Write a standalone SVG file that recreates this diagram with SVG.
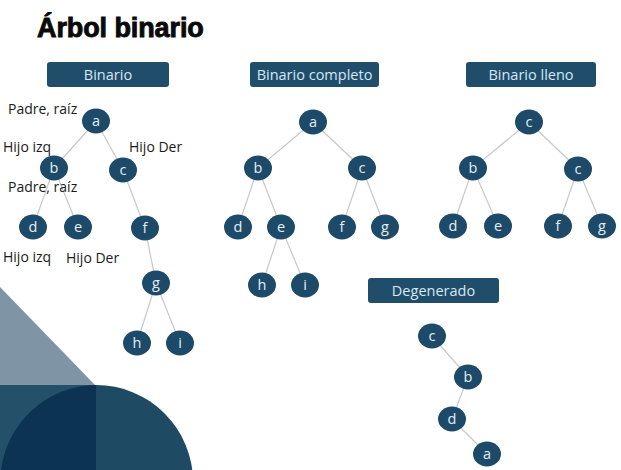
<svg xmlns="http://www.w3.org/2000/svg" width="621" height="470" viewBox="0 0 621 470">
<defs>
<style>
.bg{fill:#ffffff}
.title{font-family:"Liberation Sans",Arial,sans-serif;font-weight:bold;font-size:27px;fill:#0a0a0a;stroke:#0a0a0a;stroke-width:0.9;letter-spacing:-0.1px}
.box{fill:#1f4d6a}
.boxt{font-family:"Open Sans","Liberation Sans",sans-serif;font-size:14.5px;fill:#d6e8f4;text-anchor:middle}
.n{fill:#1d4a68}
.nt{font-family:"Open Sans","Liberation Sans",sans-serif;font-size:14.5px;fill:#e4eef6;text-anchor:middle}
.lbl{font-family:"Open Sans","Liberation Sans",sans-serif;font-size:14px;fill:#1a1a1a}
.e{stroke:#c8c8c8;stroke-width:1.2;fill:none}
</style>
</defs>
<rect class="bg" x="0" y="0" width="621" height="470"/>
<g id="decor">
<polygon points="0,287 95,385 0,385" fill="#7f95a5"/>
<rect x="0" y="385" width="96" height="85" fill="#24506a"/>
<path d="M96,385 A97,97 0 0 1 193,482 L96,482 Z" fill="#1f4a63"/>
<path d="M96,385 L96,470 L1,470 A97,97 0 0 1 96,385 Z" fill="#0c3352"/>
</g>
<text class="title" x="37" y="37">Árbol binario</text>
<g id="connectors">
<line class="e" x1="96" y1="121" x2="54" y2="168"/>
<line class="e" x1="96" y1="121" x2="123" y2="170"/>
<line class="e" x1="54" y1="168" x2="33" y2="227"/>
<line class="e" x1="54" y1="168" x2="78" y2="227"/>
<line class="e" x1="123" y1="170" x2="145" y2="228"/>
<line class="e" x1="145" y1="228" x2="156" y2="283"/>
<line class="e" x1="156" y1="283" x2="137" y2="343"/>
<line class="e" x1="156" y1="283" x2="180" y2="343"/>
<line class="e" x1="313" y1="122" x2="258" y2="168"/>
<line class="e" x1="313" y1="122" x2="362" y2="168"/>
<line class="e" x1="258" y1="168" x2="238" y2="227"/>
<line class="e" x1="258" y1="168" x2="281" y2="227"/>
<line class="e" x1="362" y1="168" x2="342" y2="227"/>
<line class="e" x1="362" y1="168" x2="385" y2="227"/>
<line class="e" x1="281" y1="227" x2="262" y2="285"/>
<line class="e" x1="281" y1="227" x2="305" y2="285"/>
<line class="e" x1="529" y1="122" x2="473" y2="168"/>
<line class="e" x1="529" y1="122" x2="578" y2="169"/>
<line class="e" x1="473" y1="168" x2="453" y2="226"/>
<line class="e" x1="473" y1="168" x2="498" y2="226"/>
<line class="e" x1="578" y1="169" x2="558" y2="226"/>
<line class="e" x1="578" y1="169" x2="602" y2="226"/>
<line class="e" x1="432" y1="336" x2="468" y2="377"/>
<line class="e" x1="468" y1="377" x2="452" y2="419"/>
<line class="e" x1="452" y1="419" x2="487" y2="454"/>
</g>
<g id="hdr-binario"><rect class="box" x="47" y="62" width="122" height="25" rx="3"/><text class="boxt" x="108" y="80">Binario</text></g>
<g id="hdr-completo"><rect class="box" x="250" y="62" width="129" height="25" rx="3"/><text class="boxt" x="314.5" y="80">Binario completo</text></g>
<g id="hdr-lleno"><rect class="box" x="466" y="62" width="130" height="25" rx="3"/><text class="boxt" x="531" y="80">Binario lleno</text></g>
<g id="hdr-degenerado"><rect class="box" x="368" y="278" width="131" height="25" rx="3"/><text class="boxt" x="433.5" y="296">Degenerado</text></g>
<g id="labels">
<text class="lbl" x="8" y="114">Padre, raíz</text>
<text class="lbl" x="3" y="152">Hijo izq</text>
<text class="lbl" x="129" y="152">Hijo Der</text>
<text class="lbl" x="8" y="192">Padre, raíz</text>
<text class="lbl" x="3" y="262">Hijo izq</text>
<text class="lbl" x="66" y="263">Hijo Der</text>
</g>
<g id="t1-a"><ellipse class="n" cx="96" cy="121" rx="14" ry="12.5"/><text class="nt" x="96" y="126">a</text></g>
<g id="t1-b"><ellipse class="n" cx="54" cy="168" rx="14" ry="12.5"/><text class="nt" x="54" y="173">b</text></g>
<g id="t1-c"><ellipse class="n" cx="123" cy="170" rx="14" ry="12.5"/><text class="nt" x="123" y="175">c</text></g>
<g id="t1-d"><ellipse class="n" cx="33" cy="227" rx="14" ry="12.5"/><text class="nt" x="33" y="232">d</text></g>
<g id="t1-e"><ellipse class="n" cx="78" cy="227" rx="14" ry="12.5"/><text class="nt" x="78" y="232">e</text></g>
<g id="t1-f"><ellipse class="n" cx="145" cy="228" rx="14" ry="12.5"/><text class="nt" x="145" y="233">f</text></g>
<g id="t1-g"><ellipse class="n" cx="156" cy="283" rx="14" ry="12.5"/><text class="nt" x="156" y="288">g</text></g>
<g id="t1-h"><ellipse class="n" cx="137" cy="343" rx="14" ry="12.5"/><text class="nt" x="137" y="348">h</text></g>
<g id="t1-i"><ellipse class="n" cx="180" cy="343" rx="14" ry="12.5"/><text class="nt" x="180" y="348">i</text></g>
<g id="t2-a"><ellipse class="n" cx="313" cy="122" rx="14" ry="12.5"/><text class="nt" x="313" y="127">a</text></g>
<g id="t2-b"><ellipse class="n" cx="258" cy="168" rx="14" ry="12.5"/><text class="nt" x="258" y="173">b</text></g>
<g id="t2-c"><ellipse class="n" cx="362" cy="168" rx="14" ry="12.5"/><text class="nt" x="362" y="173">c</text></g>
<g id="t2-d"><ellipse class="n" cx="238" cy="227" rx="14" ry="12.5"/><text class="nt" x="238" y="232">d</text></g>
<g id="t2-e"><ellipse class="n" cx="281" cy="227" rx="14" ry="12.5"/><text class="nt" x="281" y="232">e</text></g>
<g id="t2-f"><ellipse class="n" cx="342" cy="227" rx="14" ry="12.5"/><text class="nt" x="342" y="232">f</text></g>
<g id="t2-g"><ellipse class="n" cx="385" cy="227" rx="14" ry="12.5"/><text class="nt" x="385" y="232">g</text></g>
<g id="t2-h"><ellipse class="n" cx="262" cy="285" rx="14" ry="12.5"/><text class="nt" x="262" y="290">h</text></g>
<g id="t2-i"><ellipse class="n" cx="305" cy="285" rx="14" ry="12.5"/><text class="nt" x="305" y="290">i</text></g>
<g id="t3-c"><ellipse class="n" cx="529" cy="122" rx="14" ry="12.5"/><text class="nt" x="529" y="127">c</text></g>
<g id="t3-b"><ellipse class="n" cx="473" cy="168" rx="14" ry="12.5"/><text class="nt" x="473" y="173">b</text></g>
<g id="t3-c2"><ellipse class="n" cx="578" cy="169" rx="14" ry="12.5"/><text class="nt" x="578" y="174">c</text></g>
<g id="t3-d"><ellipse class="n" cx="453" cy="226" rx="14" ry="12.5"/><text class="nt" x="453" y="231">d</text></g>
<g id="t3-e"><ellipse class="n" cx="498" cy="226" rx="14" ry="12.5"/><text class="nt" x="498" y="231">e</text></g>
<g id="t3-f"><ellipse class="n" cx="558" cy="226" rx="14" ry="12.5"/><text class="nt" x="558" y="231">f</text></g>
<g id="t3-g"><ellipse class="n" cx="602" cy="226" rx="14" ry="12.5"/><text class="nt" x="602" y="231">g</text></g>
<g id="t4-c"><ellipse class="n" cx="432" cy="336" rx="14" ry="12.5"/><text class="nt" x="432" y="341">c</text></g>
<g id="t4-b"><ellipse class="n" cx="468" cy="377" rx="14" ry="12.5"/><text class="nt" x="468" y="382">b</text></g>
<g id="t4-d"><ellipse class="n" cx="452" cy="419" rx="14" ry="12.5"/><text class="nt" x="452" y="424">d</text></g>
<g id="t4-a"><ellipse class="n" cx="487" cy="454" rx="14" ry="12.5"/><text class="nt" x="487" y="459">a</text></g>
</svg>
